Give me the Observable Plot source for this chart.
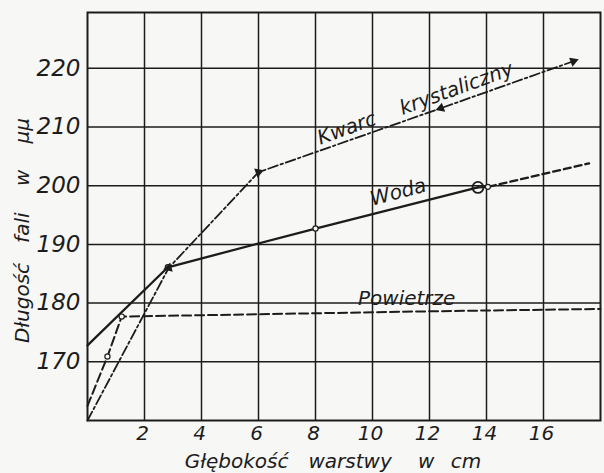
<!DOCTYPE html>
<html><head><meta charset="utf-8">
<script src="https://cdn.jsdelivr.net/npm/d3@7"></script>
<script src="https://cdn.jsdelivr.net/npm/@observablehq/plot@0.6"></script>
<style>html,body{margin:0;padding:0;background:#f7f7f5;} #chart svg{display:block}</style>
</head><body><div id="chart"></div>
<script>
// Tick values
const xTicks = [2, 4, 6, 8, 10, 12, 14, 16];
const yTicks = [170, 180, 190, 200, 210, 220];

// Kwarc krystaliczny (dash-dot)
const kwarcX = [0, 2.85, 6, 12.4, 17.05];
const kwarcY = [160, 186.0, 202.3, 213.2, 221.2];

// Woda (solid, measured) and its dashed continuation
const wodaX = [0, 2.82, 8, 13.7];
const wodaY = [172.8, 186.1, 192.7, 199.7];
const wodaExtX = [13.7, 14.05, 17.6];
const wodaExtY = [199.7, 199.8, 203.8];

// Powietrze (dashed)
const powX = [0, 0.7, 1.2, 6, 12, 18];
const powY = [162.5, 170.9, 177.7, 178.1, 178.6, 179.0];

// Series labels
const seriesLabels = ["Kwarc\u2003\u00a0krystaliczny", "Woda", "Powietrze"];
const seriesLabelX = [11.5, 10.9, 11.2];
const seriesLabelY = [214.0, 198.9, 180.8];

const xLabel = "Głębokość\u2003warstwy\u2003\u00a0w\u2002\u00a0cm";
const yLabel = "Długość\u2003fali\u2003\u00a0w\u2003\u00a0μμ";

const ink = "#1c1c1c";
const bg = "#f7f7f5";
const font = "DejaVu Sans";

const pts = (xs, ys) => xs.map((x, i) => ({x, y: ys[i], i}));
const kwarc = pts(kwarcX, kwarcY);
const woda = pts(wodaX, wodaY);
const wodaExt = pts(wodaExtX, wodaExtY);
const pow = pts(powX, powY);
const labels = seriesLabels.map((t, i) => ({t, x: seriesLabelX[i], y: seriesLabelY[i], i}));

const txt = {fill: ink, fontStyle: "italic", fontFamily: font};

const chart = Plot.plot({
  width: 604,
  height: 473,
  marginLeft: 87,
  marginRight: 4,
  marginTop: 12,
  marginBottom: 53,
  style: {background: bg, fontFamily: font, color: ink},
  x: {domain: [0, 18]},
  y: {domain: [160, 229.5]},
  marks: [
    Plot.ruleX(xTicks, {stroke: ink, strokeWidth: 1.5}),
    Plot.ruleY(yTicks, {stroke: ink, strokeWidth: 1.5}),
    Plot.frame({stroke: ink, strokeWidth: 2}),
    Plot.line(pow, {x: "x", y: "y", stroke: ink, strokeWidth: 2, strokeDasharray: "9,4"}),
    Plot.line(kwarc, {x: "x", y: "y", stroke: ink, strokeWidth: 1.8, strokeDasharray: "10,3,2.5,3"}),
    Plot.line(woda, {x: "x", y: "y", stroke: ink, strokeWidth: 2.3}),
    Plot.line(wodaExt, {x: "x", y: "y", stroke: ink, strokeWidth: 2.3, strokeDasharray: "7,4"}),
    Plot.dot(pow.filter(d => d.i === 1 || d.i === 2), {x: "x", y: "y", r: 2.6, fill: bg, stroke: ink, strokeWidth: 1.2}),
    Plot.dot(woda.filter(d => d.i === 1 || d.i === 2), {x: "x", y: "y", r: 2.6, fill: bg, stroke: ink, strokeWidth: 1.2}),
    Plot.dot(woda.filter(d => d.i === 3), {x: "x", y: "y", r: 5.5, fill: "none", stroke: ink, strokeWidth: 1.8}),
    Plot.dot(wodaExt.filter(d => d.i === 1), {x: "x", y: "y", r: 2.5, fill: bg, stroke: ink, strokeWidth: 1.2}),
    Plot.dot(kwarc.filter(d => d.i > 0), {x: "x", y: "y", symbol: "triangle", r: 3.6, fill: ink,
      rotate: d => d.i === 3 ? -110 : d.i === 1 ? -105 : 70}),
    Plot.text(labels, {x: "x", y: "y", text: "t", fontSize: 20, ...txt,
      rotate: d => d.i === 0 ? -20 : d.i === 1 ? -15 : 0}),
    Plot.axisX(xTicks, {tickSize: 0, tickPadding: 5, fontSize: 20, ...txt, label: null, dx: -2}),
    Plot.axisY(yTicks, {tickSize: 0, tickPadding: 7, fontSize: 23, ...txt, label: null}),
    Plot.text([xLabel], {frameAnchor: "bottom", textAnchor: "middle", lineAnchor: "middle", dy: 41, dx: -11, fontSize: 20, ...txt}),
    Plot.text([yLabel], {frameAnchor: "left", textAnchor: "middle", lineAnchor: "middle", dx: -65, dy: 14, rotate: -90, fontSize: 20, ...txt})
  ]
});
document.getElementById("chart").appendChild(chart);
</script>
</body></html>
